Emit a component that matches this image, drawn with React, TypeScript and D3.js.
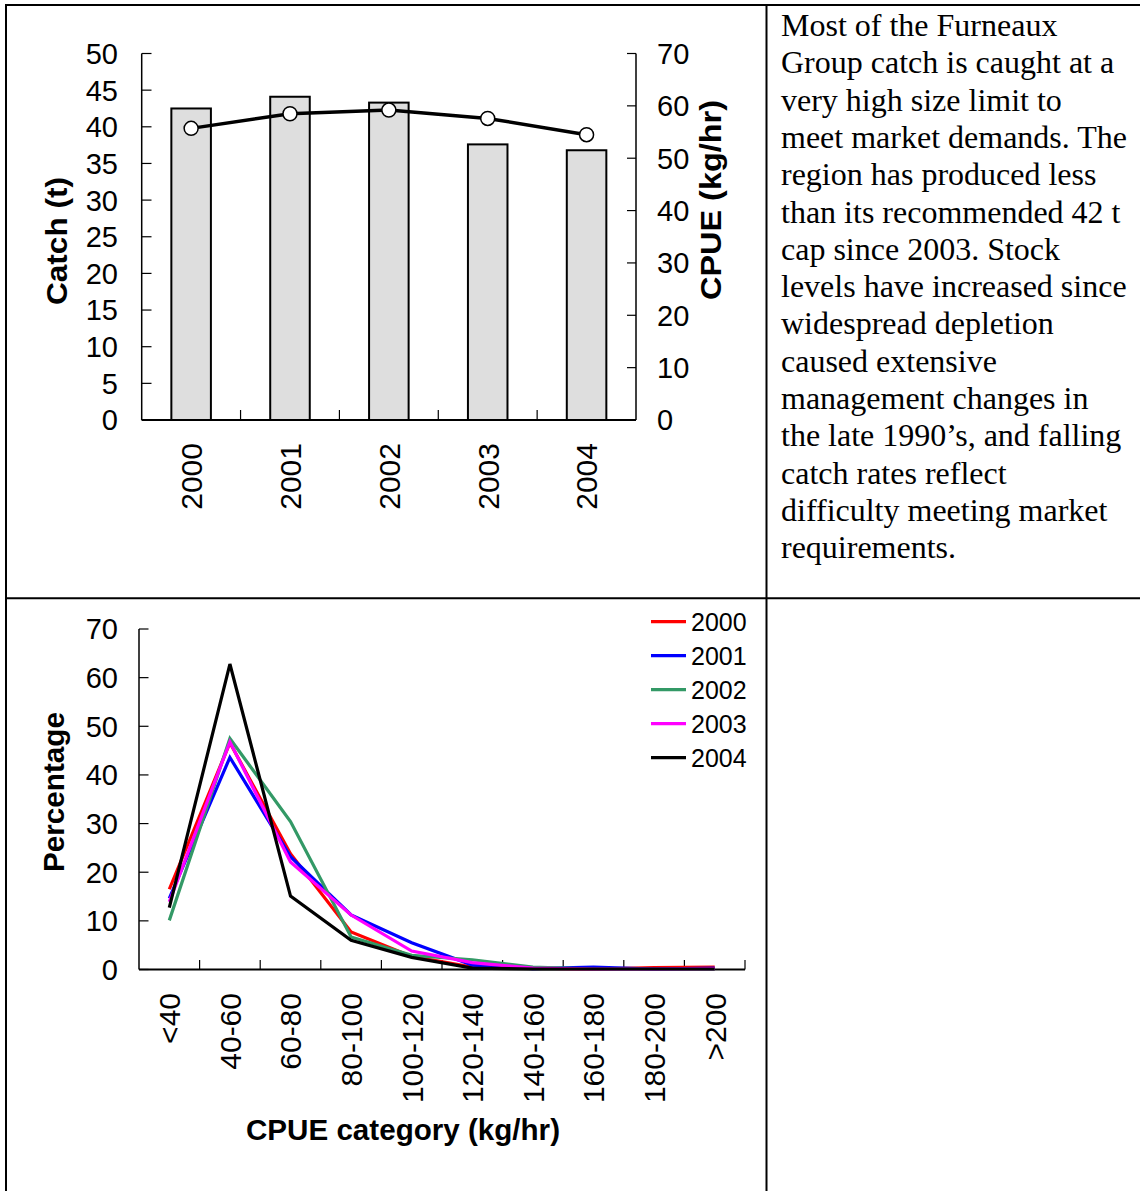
import React from "react";
import * as d3 from "d3";

const years = ["2000", "2001", "2002", "2003", "2004"];
const catchT = [42.5, 44.1, 43.3, 37.6, 36.8];
const cpue = [55.7, 58.5, 59.2, 57.6, 54.5];
const catchTicks = [0, 5, 10, 15, 20, 25, 30, 35, 40, 45, 50];
const cpueTicks = [0, 10, 20, 30, 40, 50, 60, 70];

const categories = ["<40", "40-60", "60-80", "80-100", "100-120", "120-140", "140-160", "160-180", "180-200", ">200"];
const pct2000 = [16.5, 46.6, 23.8, 7.7, 2.7, 0.5, 0.3, 0.1, 0.4, 0.5];
const pct2001 = [14.6, 43.6, 23.2, 11.2, 5.5, 0.9, 0.2, 0.5, 0.1, 0.3];
const pct2002 = [10.1, 47.5, 30.4, 6.7, 2.9, 2.0, 0.5, 0.1, 0.1, 0.1];
const pct2003 = [13.9, 46.8, 22.1, 11.2, 3.8, 1.4, 0.3, 0.1, 0.1, 0.2];
const pct2004 = [12.7, 62.8, 15.1, 6.0, 2.5, 0.3, 0.1, 0.1, 0.1, 0.1];
const pctTicks = [0, 10, 20, 30, 40, 50, 60, 70];
const seriesColors = ["#ff0000", "#0000ff", "#339966", "#ff00ff", "#000000"];

const paragraph = [
  "Most of the Furneaux",
  "Group catch is caught at a",
  "very high size limit to",
  "meet market demands. The",
  "region has produced less",
  "than its recommended 42 t",
  "cap since 2003. Stock",
  "levels have increased since",
  "widespread depletion",
  "caused extensive",
  "management changes in",
  "the late 1990\u2019s, and falling",
  "catch rates reflect",
  "difficulty meeting market",
  "requirements.",
];

const SANS = "'Liberation Sans', Arial, sans-serif";
const SERIF = "'Liberation Serif', 'Times New Roman', serif";

export default function App() {
  const xBand = d3.scaleBand<string>().domain(years).range([141.7, 636]).paddingInner(0.6).paddingOuter(0.3);
  const step = xBand.step();
  const yCatch = d3.scaleLinear().domain([0, 50]).range([420, 53.5]);
  const yCpue = d3.scaleLinear().domain([0, 70]).range([420, 53.5]);
  const cx = (d: string) => (xBand(d) as number) + xBand.bandwidth() / 2;
  const cpueLine = d3
    .line<number>()
    .x((_, i) => cx(years[i]))
    .y((d) => yCpue(d));

  const xPt = d3.scalePoint<string>().domain(categories).range([139, 745]).padding(0.5);
  const pStep = xPt.step();
  const yPct = d3.scaleLinear().domain([0, 70]).range([969.5, 629]);
  const pctSeries = [pct2000, pct2001, pct2002, pct2003, pct2004];
  const pctLine = d3
    .line<number>()
    .x((_, i) => xPt(categories[i]) as number)
    .y((d) => yPct(d));

  const bottomBoundaries = categories.map((c) => (xPt(c) as number) + pStep / 2);

  return (
    <svg width={1140} height={1191} style={{ position: "absolute", left: 0, top: 0, background: "#fff" }}>
      <rect x={0} y={0} width={1140} height={1191} fill="#fff" />
      <g stroke="#000" strokeWidth={2}>
        <line x1={6} y1={5} x2={1140} y2={5} />
        <line x1={6} y1={4} x2={6} y2={1191} />
        <line x1={766.5} y1={5} x2={766.5} y2={1191} />
        <line x1={6} y1={598.3} x2={1140} y2={598.3} />
      </g>

      {/* TOP CHART */}
      <g>
        {years.map((y, i) => (
          <rect
            key={y}
            x={xBand(y)}
            y={yCatch(catchT[i])}
            width={xBand.bandwidth()}
            height={yCatch(0) - yCatch(catchT[i])}
            fill="#dedede"
            stroke="#000"
            strokeWidth={2}
          />
        ))}
        <line x1={141.7} y1={yCatch(50)} x2={141.7} y2={yCatch(0)} stroke="#000" strokeWidth={1.5} />
        {catchTicks.map((t) => (
          <g key={t}>
            <line x1={141.7} x2={151.5} y1={yCatch(t)} y2={yCatch(t)} stroke="#000" strokeWidth={1.2} />
            <text x={118} y={yCatch(t)} dy="0.36em" textAnchor="end" fontFamily={SANS} fontSize={29}>
              {t}
            </text>
          </g>
        ))}
        <line x1={636} y1={yCpue(70)} x2={636} y2={yCpue(0)} stroke="#000" strokeWidth={1.5} />
        {cpueTicks.map((t) => (
          <g key={t}>
            <line x1={627} x2={636} y1={yCpue(t)} y2={yCpue(t)} stroke="#000" strokeWidth={1.2} />
            <text x={657} y={yCpue(t)} dy="0.36em" textAnchor="start" fontFamily={SANS} fontSize={29}>
              {t}
            </text>
          </g>
        ))}
        <line x1={141.7} y1={420} x2={636} y2={420} stroke="#000" strokeWidth={2} />
        {years.slice(1).map((y) => {
          const b = cx(y) - step / 2;
          return <line key={y} x1={b} x2={b} y1={420} y2={410} stroke="#000" strokeWidth={1.2} />;
        })}
        {years.map((y) => (
          <text
            key={y}
            transform={`translate(${cx(y)},443) rotate(-90)`}
            dy="0.36em"
            textAnchor="end"
            fontFamily={SANS}
            fontSize={30}
          >
            {y}
          </text>
        ))}
        <path d={cpueLine(cpue) || ""} fill="none" stroke="#000" strokeWidth={3.5} />
        {cpue.map((v, i) => (
          <circle key={i} cx={cx(years[i])} cy={yCpue(v)} r={7} fill="#fff" stroke="#000" strokeWidth={1.5} />
        ))}
        <text
          transform="translate(57,241) rotate(-90)"
          dy="0.36em"
          textAnchor="middle"
          fontFamily={SANS}
          fontWeight="bold"
          fontSize={29}
          textLength={128}
          lengthAdjust="spacingAndGlyphs"
        >
          Catch (t)
        </text>
        <text
          transform="translate(711,200) rotate(-90)"
          dy="0.36em"
          textAnchor="middle"
          fontFamily={SANS}
          fontWeight="bold"
          fontSize={29}
          textLength={200}
          lengthAdjust="spacingAndGlyphs"
        >
          CPUE (kg/hr)
        </text>
      </g>

      {/* PARAGRAPH */}
      <g fontFamily={SERIF} fontSize={32} fill="#000">
        {paragraph.map((line, i) => (
          <text key={i} x={781} y={36 + i * 37.3}>
            {line}
          </text>
        ))}
      </g>

      {/* BOTTOM CHART */}
      <g>
        <line x1={139} y1={yPct(70)} x2={139} y2={yPct(0)} stroke="#000" strokeWidth={1.5} />
        {pctTicks.map((t) => (
          <g key={t}>
            <line x1={139} x2={148.5} y1={yPct(t)} y2={yPct(t)} stroke="#000" strokeWidth={1.2} />
            <text x={118} y={yPct(t)} dy="0.36em" textAnchor="end" fontFamily={SANS} fontSize={29}>
              {t}
            </text>
          </g>
        ))}
        <line x1={139} y1={yPct(0)} x2={745} y2={yPct(0)} stroke="#000" strokeWidth={2} />
        {bottomBoundaries.map((b, i) => (
          <line key={i} x1={b} x2={b} y1={yPct(0)} y2={yPct(0) - 9.5} stroke="#000" strokeWidth={1.2} />
        ))}
        {categories.map((c) => (
          <text
            key={c}
            transform={`translate(${xPt(c)},993) rotate(-90)`}
            dy="0.36em"
            textAnchor="end"
            fontFamily={SANS}
            fontSize={30}
          >
            {c}
          </text>
        ))}
        {pctSeries.map((s, i) => (
          <path key={i} d={pctLine(s) || ""} fill="none" stroke={seriesColors[i]} strokeWidth={3.2} strokeLinejoin="miter" />
        ))}
        {years.map((y, i) => (
          <g key={y}>
            <line x1={651} x2={686} y1={621.7 + i * 34} y2={621.7 + i * 34} stroke={seriesColors[i]} strokeWidth={3.2} />
            <text x={691} y={621.7 + i * 34} dy="0.36em" fontFamily={SANS} fontSize={25}>
              {y}
            </text>
          </g>
        ))}
        <text
          transform="translate(54,792) rotate(-90)"
          dy="0.36em"
          textAnchor="middle"
          fontFamily={SANS}
          fontWeight="bold"
          fontSize={29}
          textLength={160}
          lengthAdjust="spacingAndGlyphs"
        >
          Percentage
        </text>
        <text
          x={403}
          y={1140}
          textAnchor="middle"
          fontFamily={SANS}
          fontWeight="bold"
          fontSize={29}
          textLength={314}
          lengthAdjust="spacingAndGlyphs"
        >
          CPUE category (kg/hr)
        </text>
      </g>
    </svg>
  );
}
